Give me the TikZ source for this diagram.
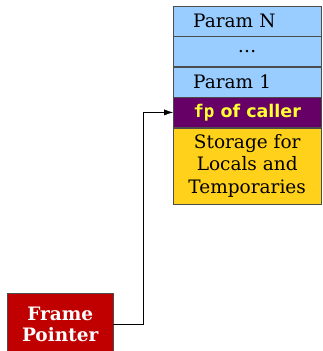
\documentclass[tikz,border=0pt]{standalone}
\usepackage{fontspec}
\setmainfont{DejaVu Serif}
\setsansfont{DejaVu Sans}
\newfontfamily\fpmono{DejaVu Sans Mono}
\usepackage{xcolor}
\usepackage{tikz}
\usetikzlibrary{positioning}
\usetikzlibrary{arrows.meta}
\definecolor{parambg}{HTML}{99CCFF}
\definecolor{callerbg}{HTML}{660066}
\definecolor{callerfg}{HTML}{FFFF33}
\definecolor{localbg}{HTML}{FFD11A}
\definecolor{framebg}{HTML}{C00000}
\tikzset{
  slot/.style={draw=black!70, minimum width=148pt, minimum height=30pt,
    inner sep=0pt, font=\fontsize{18.5}{22.7}\selectfont},
  param/.style={slot, fill=parambg, align=left, text width=108pt, inner xsep=20pt},
}

\begin{document}
\begin{tikzpicture}[x=1pt, y=1pt, node distance=0pt]
    \useasboundingbox (0,0) rectangle (322,-351);
    \node[param, anchor=north west] (paramn) at (173,-6) {Param N};
    \node[param, below=of paramn, align=center] (dots) {\dots};
    \node[param, below=of dots] (param1) {Param 1};
    \node[slot, fill=callerbg, text=callerfg, below=of param1,
        font=\fontsize{17.5}{20}\selectfont\bfseries] (caller)
        {{\fpmono fp} {\sffamily of caller}};
    \node[slot, fill=localbg, minimum height=76pt, align=center, below=of caller] (locals)
        {Storage for\\Locals and\\Temporaries};
    \node[draw=black!70, fill=framebg, text=white, font=\fontsize{18.5}{21}\selectfont\bfseries,
        align=center, minimum width=106pt, minimum height=62pt, inner sep=0pt,
        anchor=north west] (frame) at (7,-293) {Frame\\Pointer};
    \draw[-{Latex[length=9pt,width=6pt]}] (frame.east) -- ++(30,0) |- (caller.west);
\end{tikzpicture}
\end{document}
